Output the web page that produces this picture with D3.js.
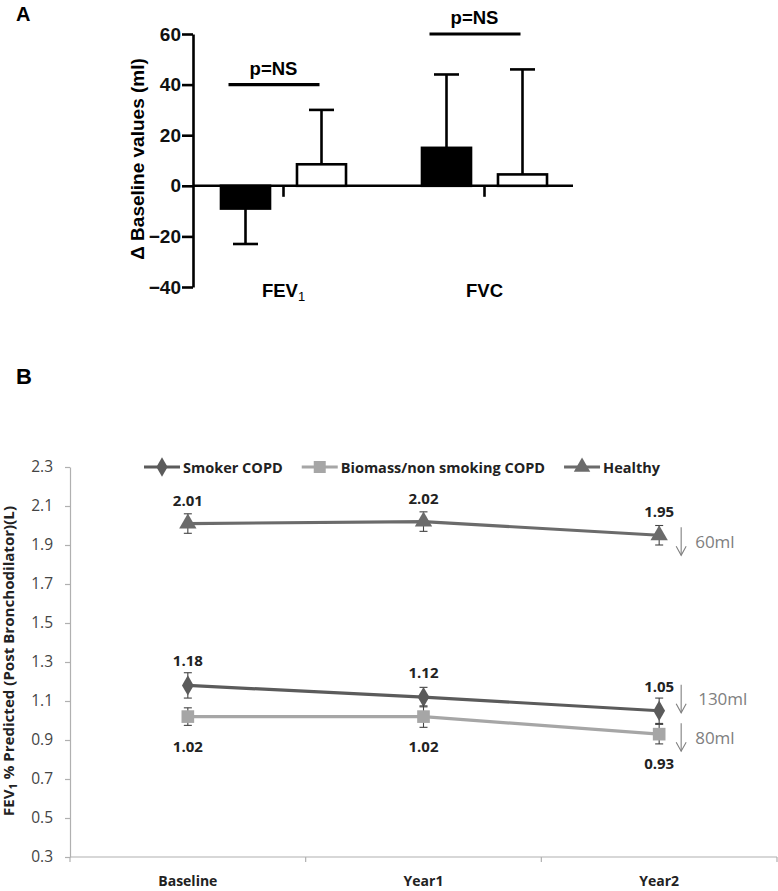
<!DOCTYPE html>
<html><head><meta charset="utf-8">
<script src="https://cdn.jsdelivr.net/npm/d3@7"></script>
<style>body{margin:0;background:#fff}svg{display:block}</style>
</head><body>
<svg id="c" width="778" height="891"></svg>
<script>
// ---------- Panel A data ----------
const categoriesA = ["FEV1", "FVC"];
const groupsA = ["Smoker COPD", "Biomass/non smoking COPD"];
const smokerChange = [-9, 15];
const smokerSD = [14, 29];
const biomassChange = [8.5, 4.5];
const biomassSD = [21.5, 41.5];
const sigLevel = [40, 60];
const sigText = ["p=NS", "p=NS"];
const ticksA = [-40, -20, 0, 20, 40, 60];

// ---------- Panel B data ----------
const timepoints = ["Baseline", "Year1", "Year2"];
const seriesNames = ["Smoker COPD", "Biomass/non smoking COPD", "Healthy"];
const smokerFEV1 = [1.18, 1.12, 1.05];
const smokerErr = [0.065, 0.05, 0.065];
const biomassFEV1 = [1.02, 1.02, 0.93];
const biomassErr = [0.045, 0.055, 0.05];
const healthyFEV1 = [2.01, 2.02, 1.95];
const healthyErr = [0.05, 0.05, 0.05];
const declineLabels = ["130ml", "80ml", "60ml"];
const ticksB = [0.3, 0.5, 0.7, 0.9, 1.1, 1.3, 1.5, 1.7, 1.9, 2.1, 2.3];

const svg = d3.select("#c");
const arial = "'Liberation Sans', Arial, sans-serif";
const cal = "'Open Sans', 'Noto Sans', sans-serif";

// ================= PANEL A =================
svg.append("text").attr("x", 16).attr("y", 21).attr("font-family", arial)
  .attr("font-weight", "bold").attr("font-size", 20).text("A");

const yA = d3.scaleLinear().domain([-40, 60]).range([287, 34]);
const xA = d3.scaleBand().domain(categoriesA).range([183, 585]);
const xSub = d3.scaleBand().domain(groupsA).range([-76, 76]).paddingInner(0.355).paddingOuter(0.1775);

const gA = svg.append("g");
const axL = gA.append("g").attr("transform", "translate(193,0)")
  .call(d3.axisLeft(yA).tickValues(ticksA).tickSize(11).tickSizeOuter(0).tickPadding(1));
axL.selectAll("path,line").attr("stroke", "#000").attr("stroke-width", 2.6);
axL.selectAll("text").attr("font-family", arial).attr("font-weight", "bold")
  .attr("font-size", 19).attr("fill", "#111");

// x axis line at zero
gA.append("line").attr("x1", 193).attr("x2", 573).attr("y1", yA(0)).attr("y2", yA(0))
  .attr("stroke", "#000").attr("stroke-width", 2.6);
const axB = gA.append("g").attr("transform", `translate(0,${yA(0)})`)
  .call(d3.axisBottom(xA).tickSize(11).tickFormat(""));
axB.select(".domain").remove();
axB.selectAll("line").attr("stroke", "#000").attr("stroke-width", 2.6);

const barData = [];
categoriesA.forEach((c, i) => {
  barData.push({cat: c, grp: groupsA[0], v: smokerChange[i], sd: smokerSD[i], fill: "#000"});
  barData.push({cat: c, grp: groupsA[1], v: biomassChange[i], sd: biomassSD[i], fill: "#fff"});
});
const cx = d => xA(d.cat) + xA.bandwidth() / 2 + xSub(d.grp);
// error bars
barData.forEach(d => {
  const x = cx(d) + xSub.bandwidth() / 2;
  const end = d.v >= 0 ? d.v + d.sd : d.v - d.sd;
  gA.append("line").attr("x1", x).attr("x2", x).attr("y1", yA(d.v)).attr("y2", yA(end))
    .attr("stroke", "#000").attr("stroke-width", 2.6);
  gA.append("line").attr("x1", x - 12.5).attr("x2", x + 12.5).attr("y1", yA(end)).attr("y2", yA(end))
    .attr("stroke", "#000").attr("stroke-width", 2.6);
});
gA.selectAll("rect.bar").data(barData).join("rect").attr("class", "bar")
  .attr("x", d => cx(d)).attr("width", xSub.bandwidth())
  .attr("y", d => yA(Math.max(0, d.v))).attr("height", d => Math.abs(yA(d.v) - yA(0)))
  .attr("fill", d => d.fill).attr("stroke", "#000").attr("stroke-width", 2.6);

// significance
categoriesA.forEach((c, i) => {
  const mid = xA(c) + xA.bandwidth() / 2;
  gA.append("line").attr("x1", mid - 55).attr("x2", mid + 36)
    .attr("y1", yA(sigLevel[i])).attr("y2", yA(sigLevel[i]))
    .attr("stroke", "#000").attr("stroke-width", 3.2);
  gA.append("text").attr("x", mid - 10).attr("y", yA(sigLevel[i]) - 10)
    .attr("text-anchor", "middle").attr("font-family", arial).attr("font-weight", "bold")
    .attr("font-size", 18.5).text(sigText[i]);
});

// category labels
categoriesA.forEach(c => {
  const t = gA.append("text").attr("x", xA(c) + xA.bandwidth() / 2).attr("y", 297)
    .attr("text-anchor", "middle").attr("font-family", arial).attr("font-weight", "bold")
    .attr("font-size", 18.5);
  if (c === "FEV1") {
    t.append("tspan").text("FEV");
    t.append("tspan").attr("font-size", 13).attr("font-weight", "normal").attr("dy", 4).text("1");
  } else t.text(c);
});

// y label
svg.append("text").attr("transform", "translate(144,159) rotate(-90)")
  .attr("text-anchor", "middle").attr("font-family", arial).attr("font-weight", "bold")
  .attr("font-size", 19).text("\u0394 Baseline values (ml)");

// ================= PANEL B =================
svg.append("text").attr("x", 16).attr("y", 384).attr("font-family", arial)
  .attr("font-weight", "bold").attr("font-size", 22).text("B");

const yB = d3.scaleLinear().domain([0.3, 2.3]).range([857, 467]);
const xB = d3.scalePoint().domain(timepoints).range([70, 777]).padding(0.5);
const xBand = d3.scaleBand().domain(timepoints).range([70, 777]);
const gB = svg.append("g");

const ayB = gB.append("g").attr("transform", "translate(70,0)")
  .call(d3.axisLeft(yB).tickValues(ticksB).tickSize(5).tickSizeOuter(0).tickPadding(12)
    .tickFormat(d3.format(".1f")));
ayB.selectAll("path,line").attr("stroke", "#b0b0b0").attr("stroke-width", 1.2);
ayB.selectAll("text").attr("font-family", cal).attr("font-size", 15.5).attr("fill", "#444");

gB.append("line").attr("x1", 70).attr("x2", 777).attr("y1", yB(0.3)).attr("y2", yB(0.3))
  .attr("stroke", "#b0b0b0").attr("stroke-width", 1.2);
const bounds = timepoints.map(t => xBand(t)).concat([xBand.range()[1]]);
gB.selectAll("line.xt").data(bounds).join("line").attr("class", "xt")
  .attr("x1", d => d).attr("x2", d => d).attr("y1", yB(0.3)).attr("y2", yB(0.3) + 5)
  .attr("stroke", "#b0b0b0").attr("stroke-width", 1.2);
gB.selectAll("text.xl").data(timepoints).join("text").attr("class", "xl")
  .attr("x", d => xB(d)).attr("y", 886).attr("text-anchor", "middle")
  .attr("font-family", cal).attr("font-weight", "bold").attr("font-size", 14).attr("fill", "#222")
  .text(d => d);

// y label B
const yl = svg.append("text").attr("transform", "translate(14,661) rotate(-90)")
  .attr("text-anchor", "middle").attr("font-family", cal).attr("font-weight", "bold")
  .attr("font-size", 14).attr("fill", "#222")
  .attr("textLength", 310).attr("lengthAdjust", "spacingAndGlyphs");
yl.append("tspan").text("FEV");
yl.append("tspan").attr("font-size", 10).attr("dy", 3).text("1");
yl.append("tspan").attr("dy", -3).text(" % Predicted (Post Bronchodilator)(L)");

const series = [
  {name: seriesNames[0], vals: smokerFEV1, err: smokerErr, color: "#5b5b5b", marker: "diamond", lab: -25, decl: declineLabels[0], arrowOff: -12},
  {name: seriesNames[1], vals: biomassFEV1, err: biomassErr, color: "#a6a6a6", marker: "square", lab: 29, decl: declineLabels[1], arrowOff: 3},
  {name: seriesNames[2], vals: healthyFEV1, err: healthyErr, color: "#6b6b6b", marker: "triangle", lab: -24, decl: declineLabels[2], arrowOff: 6}
];
const symType = {diamond: d3.symbolDiamond, square: d3.symbolSquare, triangle: d3.symbolTriangle};
const symSize = {diamond: 120, square: 160, triangle: 130};
const line = d3.line().x((d, i) => xB(timepoints[i])).y(d => yB(d));

series.forEach(s => {
  gB.append("path").attr("d", line(s.vals)).attr("fill", "none")
    .attr("stroke", s.color).attr("stroke-width", 3.2);
});
series.forEach(s => {
  s.vals.forEach((v, i) => {
    const x = xB(timepoints[i]);
    const y1 = yB(v + s.err[i]), y2 = yB(v - s.err[i]);
    gB.append("line").attr("x1", x).attr("x2", x).attr("y1", y1).attr("y2", y2)
      .attr("stroke", "#444").attr("stroke-width", 1.1);
    [y1, y2].forEach(yy => gB.append("line").attr("x1", x - 4).attr("x2", x + 4)
      .attr("y1", yy).attr("y2", yy).attr("stroke", "#444").attr("stroke-width", 1.1));
    gB.append("path").attr("d", d3.symbol(symType[s.marker], symSize[s.marker])())
      .attr("transform", `translate(${x},${yB(v)})`).attr("fill", s.color);
    gB.append("text").attr("x", x).attr("y", yB(v) + s.lab).attr("text-anchor", "middle")
      .attr("dominant-baseline", "central").attr("font-family", cal).attr("font-weight", "bold")
      .attr("font-size", 15).attr("fill", "#222").text(d3.format(".2f")(v));
  });
  // decline annotation
  const last = s.vals.length - 1;
  const ay = yB(s.vals[last]) + s.arrowOff;
  const ax = xB(timepoints[last]) + 22;
  gB.append("line").attr("x1", ax).attr("x2", ax).attr("y1", ay - 14).attr("y2", ay + 14)
    .attr("stroke", "#808080").attr("stroke-width", 1.1);
  gB.append("path").attr("d", `M${ax - 5},${ay + 5}L${ax},${ay + 14}L${ax + 5},${ay + 5}`)
    .attr("fill", "none").attr("stroke", "#808080").attr("stroke-width", 1.1);
  gB.append("text").attr("x", ax + 14 + (s.decl.length === 5 ? 3 : 0)).attr("y", ay)
    .attr("dominant-baseline", "central").attr("font-family", cal).attr("font-size", 17)
    .attr("fill", "#808080").text(s.decl);
});

// legend
let lx = 144;
const ly = yB(2.3);
series.forEach(s => {
  gB.append("line").attr("x1", lx).attr("x2", lx + 36).attr("y1", ly).attr("y2", ly)
    .attr("stroke", s.color).attr("stroke-width", 3.2);
  gB.append("path").attr("d", d3.symbol(symType[s.marker], symSize[s.marker] * 0.9)())
    .attr("transform", `translate(${lx + 18},${ly})`).attr("fill", s.color);
  const t = gB.append("text").attr("x", lx + 39).attr("y", ly).attr("dominant-baseline", "central")
    .attr("font-family", cal).attr("font-weight", "bold").attr("font-size", 14.5).attr("fill", "#222")
    .text(s.name);
  lx += 39 + t.node().getComputedTextLength() + 19;
});
</script>
</body></html>
